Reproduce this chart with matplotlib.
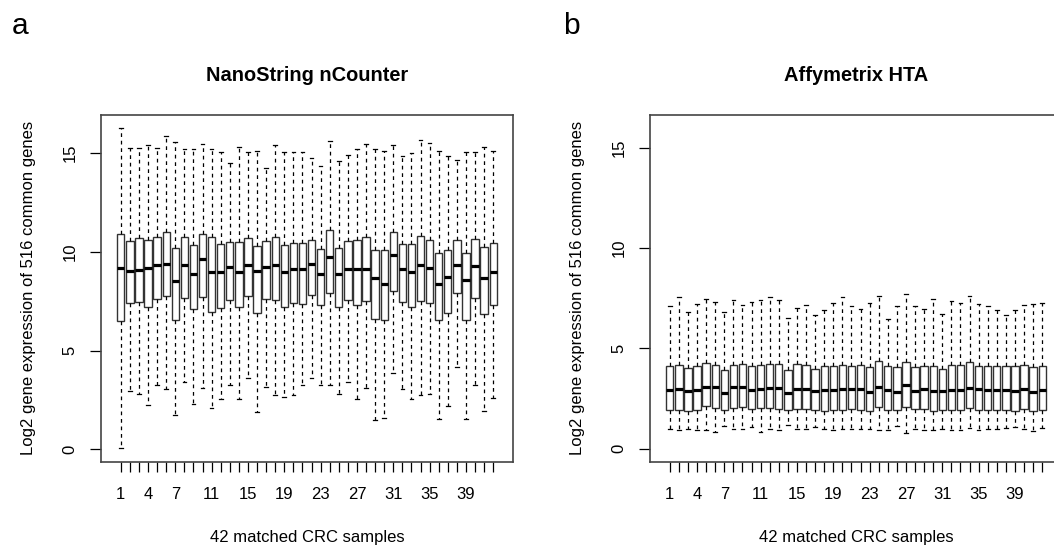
import matplotlib.pyplot as plt
import numpy as np

plt.rcParams['font.family'] = ['Liberation Sans', 'DejaVu Sans']

samples = list(range(1, 43))
shown_labels = [1, 4, 7, 11, 15, 19, 23, 27, 31, 35, 39]
y_ticks = [0, 5, 10, 15]

# panel a: NanoString nCounter, log2 expression per sample
nano_whishi = [16.27, 15.26, 15.26, 15.38, 15.26, 15.85, 15.55, 15.21, 15.21, 15.46,
               15.21, 15.04, 14.50, 15.29, 15.04, 15.09, 14.25, 15.38, 15.04, 15.04,
               15.04, 14.75, 14.33, 15.60, 14.58, 14.89, 15.21, 15.43, 15.17, 15.09,
               15.38, 14.84, 14.96, 15.65, 15.50, 15.09, 14.82, 14.64, 15.01, 15.01,
               15.31, 15.07]
nano_q3 = [10.91, 10.54, 10.67, 10.61, 10.72, 11.01, 10.18, 10.72, 10.34, 10.88,
           10.72, 10.37, 10.49, 10.50, 10.69, 10.29, 10.52, 10.76, 10.34, 10.45,
           10.45, 10.61, 10.15, 11.09, 10.20, 10.52, 10.59, 10.76, 10.07, 10.07,
           10.99, 10.40, 10.40, 10.79, 10.59, 9.95, 10.07, 10.61, 9.95, 10.64,
           10.25, 10.45]
nano_med = [9.19, 9.00, 9.07, 9.16, 9.34, 9.39, 8.51, 9.34, 8.87, 9.61,
            8.97, 8.97, 9.24, 8.97, 9.34, 9.00, 9.22, 9.31, 8.97, 9.14,
            9.14, 9.36, 8.87, 9.71, 8.87, 9.14, 9.11, 9.11, 8.68, 8.38,
            9.81, 9.14, 8.95, 9.34, 9.19, 8.36, 8.73, 9.34, 8.55, 9.27,
            8.68, 8.95]
nano_q1 = [6.49, 7.42, 7.47, 7.20, 7.62, 7.76, 6.54, 7.67, 7.08, 7.72,
           6.93, 7.17, 7.55, 7.22, 7.76, 6.91, 7.59, 7.54, 7.22, 7.39,
           7.35, 7.81, 7.28, 7.92, 7.22, 7.54, 7.32, 7.49, 6.61, 6.53,
           8.01, 7.45, 7.20, 7.49, 7.39, 6.53, 6.88, 7.92, 6.54, 7.66,
           6.86, 7.30]
nano_whislo = [0.08, 2.95, 2.78, 2.24, 3.24, 3.04, 1.72, 3.42, 2.28, 3.12,
               2.07, 2.53, 3.24, 2.53, 3.63, 1.91, 3.15, 2.75, 2.66, 2.75,
               3.27, 3.63, 3.26, 3.24, 2.82, 3.41, 2.56, 3.10, 1.47, 1.60,
               3.88, 3.04, 2.53, 2.73, 2.78, 1.55, 2.19, 4.17, 1.55, 3.26,
               1.94, 2.60]

# panel b: Affymetrix HTA
hta_whishi = [7.12, 7.55, 6.80, 7.20, 7.45, 7.33, 6.79, 7.42, 7.17, 7.30,
              7.40, 7.55, 7.43, 6.54, 6.99, 7.17, 6.65, 6.90, 7.27, 7.55,
              7.09, 6.95, 7.24, 7.63, 6.47, 7.10, 7.70, 7.12, 6.97, 7.47,
              6.72, 7.38, 7.24, 7.60, 7.20, 7.09, 6.92, 6.66, 6.92, 7.14,
              7.19, 7.24]
hta_q3 = [4.11, 4.17, 4.01, 4.14, 4.27, 4.17, 3.94, 4.19, 4.24, 4.11,
          4.17, 4.24, 4.24, 3.91, 4.22, 4.20, 3.97, 4.15, 4.15, 4.19,
          4.15, 4.17, 4.07, 4.35, 4.12, 4.06, 4.30, 4.07, 4.11, 4.15,
          3.97, 4.17, 4.17, 4.32, 4.15, 4.11, 4.11, 4.11, 4.11, 4.17,
          4.06, 4.11]
hta_med = [2.91, 2.98, 2.86, 2.95, 3.06, 3.06, 2.78, 3.06, 3.08, 2.91,
           3.00, 3.01, 3.01, 2.78, 2.98, 3.00, 2.86, 2.93, 2.91, 2.96,
           3.00, 2.96, 2.84, 3.08, 2.91, 2.84, 3.19, 2.90, 3.00, 2.90,
           2.86, 2.95, 2.95, 3.05, 2.96, 2.91, 2.91, 2.91, 2.88, 3.00,
           2.84, 2.93]
hta_q1 = [1.95, 1.95, 1.90, 1.95, 2.13, 2.04, 1.95, 2.04, 2.07, 1.97,
          2.02, 2.04, 2.00, 1.95, 2.00, 1.99, 1.95, 1.89, 1.93, 1.92,
          1.97, 1.95, 1.90, 2.07, 1.95, 1.95, 2.10, 2.00, 1.97, 1.90,
          1.95, 1.95, 1.95, 2.04, 1.93, 1.92, 1.92, 1.92, 1.87, 2.00,
          1.87, 1.92]
hta_whislo = [0.99, 0.92, 0.99, 0.94, 0.94, 0.86, 1.12, 1.01, 0.97, 1.07,
              0.86, 0.97, 0.92, 1.21, 0.97, 0.98, 1.11, 0.99, 0.94, 0.99,
              0.99, 0.99, 0.99, 0.92, 0.94, 1.14, 0.79, 0.99, 0.96, 0.96,
              0.99, 0.96, 0.96, 1.02, 0.96, 1.01, 0.99, 1.04, 1.09, 1.01,
              0.89, 1.06]

W, H = 1054, 547


def px_axes(x0, y_top, w, h):
    return [x0 / W, 1 - (y_top + h) / H, w / W, h / H]


def draw_panel(ax, whislo, q1, med, q3, whishi, ylim, title):
    stats = [dict(whislo=lo, q1=a, med=m, q3=b, whishi=hi, fliers=[])
             for lo, a, m, b, hi in zip(whislo, q1, med, q3, whishi)]
    ax.bxp(stats, positions=samples, widths=0.8, patch_artist=True,
           showfliers=False,
           boxprops=dict(facecolor='white', edgecolor='#333333', linewidth=1.0),
           medianprops=dict(color='black', linewidth=2.3, solid_capstyle='butt'),
           whiskerprops=dict(color='black', linewidth=0.9, linestyle=(0, (3, 3))),
           capprops=dict(color='black', linewidth=0.9))
    ax.set_xlim(-1.18, 44.18)
    ax.set_ylim(*ylim)
    ax.set_xticks(samples)
    ax.set_xticklabels([str(s) if s in shown_labels else '' for s in samples])
    ax.set_yticks(y_ticks)
    ax.set_yticklabels([str(t) for t in y_ticks], rotation=90, va='center')
    ax.tick_params(axis='x', length=7.5, width=0.9, pad=11, labelsize=12)
    ax.tick_params(axis='y', length=7.8, width=0.9, pad=9, labelsize=12)
    for sp in ax.spines.values():
        sp.set_color('#444444')
        sp.set_linewidth(1.2)
    ax.set_title(title, fontweight='bold', fontsize=14.4, pad=24)
    ax.set_xlabel('42 matched CRC samples', fontsize=12, labelpad=20)
    ax.set_ylabel('Log2 gene expression of 516 common genes', fontsize=12,
                  labelpad=19)


fig = plt.figure(figsize=(W / 100, H / 100), dpi=100)
ax1 = fig.add_axes(px_axes(101, 114.7, 412, 347))
ax2 = fig.add_axes(px_axes(650, 114.7, 412, 347))

draw_panel(ax1, nano_whislo, nano_q1, nano_med, nano_q3, nano_whishi,
           (-0.62, 16.92), 'NanoString nCounter')
draw_panel(ax2, hta_whislo, hta_q1, hta_med, hta_q3, hta_whishi,
           (-0.64, 16.64), 'Affymetrix HTA')

fig.text(12 / W, 1 - 33.5 / H, 'a', fontsize=21.6, va='baseline')
fig.text(563 / W, 1 - 33.5 / H, 'b', fontsize=21.6, va='baseline')

fig.savefig('out.png', dpi=100)
